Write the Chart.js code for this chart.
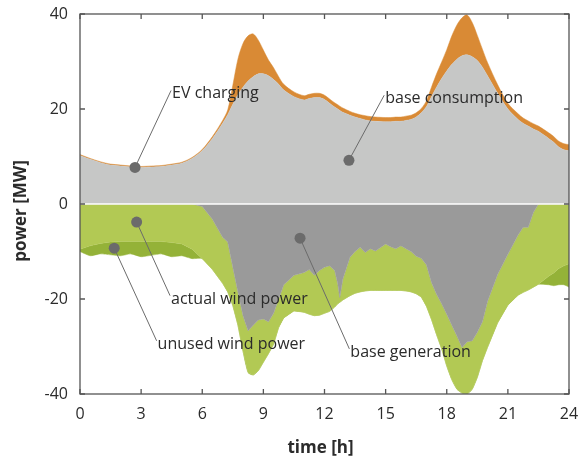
<!DOCTYPE html>
<html>
<head>
<meta charset="utf-8">
<script src="https://cdn.jsdelivr.net/npm/chart.js@4.4.0/dist/chart.umd.min.js"></script>
<style>
  html, body { margin: 0; padding: 0; background: #fff; }
  #wrap { width: 579px; height: 460px; position: relative; }
</style>
</head>
<body>
<div id="wrap"><canvas id="powerChart"></canvas></div>
<script>
// time of day [h]
const hours = [0, 0.5, 1, 1.5, 2, 2.5, 3, 3.5, 4, 4.5, 5, 5.5, 6, 6.5, 7, 7.25, 7.5, 7.75, 8, 8.25,
  8.5, 8.75, 9, 9.25, 9.5, 9.75, 10, 10.5, 11, 11.25, 11.5, 11.75, 12, 12.25, 12.5, 12.65, 12.75, 12.9,
  13.25, 13.5, 13.75, 14, 14.25, 14.5, 15, 15.25, 15.5, 15.75, 16, 16.25, 16.5, 16.75, 17, 17.25,
  17.5, 17.75, 18, 18.25, 18.5, 18.75, 19, 19.25, 19.5, 19.75, 20, 20.5, 21, 21.5, 21.75, 22,
  22.25, 22.5, 23, 23.25, 23.5, 23.75, 24];

// consumption side [MW]
const baseConsumption = [10.2, 9.4, 8.7, 8.2, 8.0, 7.8, 7.7, 7.8, 7.9, 8.2, 8.6, 9.6, 11.2, 13.8, 17.0, 18.8, 21.0, 23.0, 24.6, 25.9,
  26.8, 27.4, 27.4, 27.0, 26.2, 25.2, 24.0, 22.6, 21.9, 22.2, 22.4, 22.4, 22.0, 21.2, 20.4, 20.0, 19.7, 19.3,
  18.7, 18.3, 18.0, 17.7, 17.5, 17.4, 17.3, 17.3, 17.4, 17.4, 17.6, 17.8, 18.3, 19.2, 20.5, 22.6,
  24.6, 26.4, 28.0, 29.4, 30.5, 31.2, 31.4, 31.0, 30.2, 28.8, 27.0, 23.3, 20.0, 17.8, 17.0, 16.4,
  15.8, 15.3, 13.8, 13.0, 12.0, 11.4, 11.2];
const evCharging = [0.2, 0.2, 0.2, 0.2, 0.2, 0.2, 0.2, 0.2, 0.2, 0.2, 0.2, 0.2, 0.3, 0.4, 0.6, 1.0, 4.0, 7.5, 9.2, 9.5,
  9.0, 7.1, 5.0, 3.3, 2.5, 1.6, 1.2, 1.0, 0.9, 0.9, 0.9, 0.9, 0.9, 0.9, 0.9, 0.9, 0.9, 0.9,
  0.8, 0.8, 0.8, 0.9, 0.9, 0.9, 0.9, 0.9, 0.9, 0.9, 0.9, 0.9, 0.9, 0.9, 1.2, 2.0,
  2.8, 3.5, 4.5, 6.0, 7.2, 8.0, 8.4, 7.2, 5.3, 3.8, 2.8, 1.8, 1.2, 1.2, 1.1, 1.1,
  1.1, 1.1, 1.2, 1.2, 1.2, 1.3, 1.3];

// generation side [MW]
const baseGeneration = [0, 0, 0, 0, 0, 0, 0, 0, 0, 0, 0, 0, -0.5, -3.2, -7.0, -8.0, -13.3, -18.5, -23.5, -26.7,
  -25.5, -24.4, -24.2, -24.8, -23.0, -20.0, -17.0, -15.0, -14.4, -13.8, -15.0, -14.0, -13.3, -13.0, -14.0, -16.8, -19.7, -15.8,
  -11.2, -10.0, -9.1, -10.2, -9.4, -9.9, -8.4, -9.0, -9.4, -8.8, -9.4, -10.0, -11.0, -11.4, -12.8, -16.5,
  -19.0, -21.0, -23.2, -25.5, -27.8, -30.2, -29.0, -28.8, -27.0, -24.8, -20.5, -14.8, -10.6, -6.5, -4.9, -4.9,
  -1.8, 0, 0, 0, 0, 0, 0];
const actualWind = [-9.5, -8.8, -8.3, -8.0, -7.9, -7.9, -7.9, -7.9, -7.9, -8.1, -8.4, -9.5, -11.0, -10.6, -9.7, -10.5, -8.1, -7.0, -7.5, -8.8,
  -10.5, -10.7, -9.1, -6.7, -6.5, -6.0, -7.0, -7.5, -8.4, -9.4, -8.5, -9.4, -9.7, -9.6, -7.7, -4.2, -1.0, -4.4,
  -8.1, -8.8, -9.4, -8.1, -8.8, -8.3, -9.8, -9.2, -8.8, -9.4, -8.9, -8.5, -7.9, -8.2, -8.7, -7.8,
  -8.5, -9.5, -10.9, -11.5, -11.2, -9.6, -11.0, -10.2, -9.5, -8.2, -9.7, -10.2, -10.7, -12.7, -13.7, -13.2,
  -15.7, -16.9, -15.2, -14.5, -13.6, -13.0, -12.6];
const unusedWind = [-0.5, -2.1, -2.2, -2.7, -3.0, -2.6, -3.2, -2.9, -2.6, -3.0, -2.5, -2.0, 0, 0, 0, 0, 0, 0, 0, 0,
  0, 0, 0, 0, 0, 0, 0, 0, 0, 0, 0, 0, 0, 0, 0, 0, 0, 0,
  0, 0, 0, 0, 0, 0, 0, 0, 0, 0, 0, 0, 0, 0, 0, 0,
  0, 0, 0, 0, 0, 0, 0, 0, 0, 0, 0, 0, 0, 0, 0, 0,
  0, 0, -1.8, -2.7, -3.4, -4.0, -4.9];

const xTicks = [0, 3, 6, 9, 12, 15, 18, 21, 24];
const yTicks = [-40, -20, 0, 20, 40];

// callout labels: dot position and text anchor, in data units
const callouts = [
  { text: "EV charging",       dot: [2.7, 7.7],   anchor: [4.47, 23.9] },
  { text: "base consumption",  dot: [13.2, 9.2],  anchor: [14.93, 22.9] },
  { text: "actual wind power", dot: [2.78, -3.8], anchor: [4.42, -19.3] },
  { text: "unused wind power", dot: [1.68, -9.3], anchor: [3.76, -28.8] },
  { text: "base generation",   dot: [10.8, -7.2], anchor: [13.22, -30.5] }
];

const FONT = "'Open Sans', 'Noto Sans', sans-serif";
const TEXT = "#2b2b2b";
const pts = arr => arr.map((v, i) => ({ x: hours[i], y: v }));

function area(label, values, color, stack, fill, tension) {
  return {
    label, data: pts(values), stack, fill,
    backgroundColor: color, borderColor: color, borderWidth: 0.5,
    pointRadius: 0, tension
  };
}

// frame with inward ticks, zero seam, callouts and axis titles
const framePlugin = {
  id: "frame",
  afterDatasetsDraw(chart) {
    const { ctx, chartArea: a, scales: { x, y } } = chart;
    ctx.save();
    ctx.strokeStyle = "#ffffff";
    ctx.lineWidth = 1.6;
    ctx.beginPath();
    ctx.moveTo(a.left, y.getPixelForValue(0));
    ctx.lineTo(a.right, y.getPixelForValue(0));
    ctx.stroke();

    callouts.forEach(c => {
      const dx = x.getPixelForValue(c.dot[0]), dy = y.getPixelForValue(c.dot[1]);
      const ax = x.getPixelForValue(c.anchor[0]), ay = y.getPixelForValue(c.anchor[1]);
      ctx.strokeStyle = "#6b6b6b";
      ctx.lineWidth = 1;
      ctx.beginPath();
      ctx.moveTo(dx, dy);
      ctx.lineTo(ax, ay);
      ctx.stroke();
      ctx.fillStyle = "#6b6b6b";
      ctx.beginPath();
      ctx.arc(dx, dy, 5.5, 0, Math.PI * 2);
      ctx.fill();
      ctx.fillStyle = TEXT;
      ctx.font = "16px " + FONT;
      ctx.textAlign = "left";
      ctx.textBaseline = "alphabetic";
      ctx.fillText(c.text, ax + 1, ay + 8);
    });

    ctx.strokeStyle = "#555555";
    ctx.lineWidth = 1.3;
    ctx.strokeRect(a.left, a.top, a.right - a.left, a.bottom - a.top);
    ctx.beginPath();
    xTicks.forEach(t => {
      const px = x.getPixelForValue(t);
      ctx.moveTo(px, a.bottom); ctx.lineTo(px, a.bottom - 5);
      ctx.moveTo(px, a.top); ctx.lineTo(px, a.top + 5);
    });
    yTicks.forEach(t => {
      const py = y.getPixelForValue(t);
      ctx.moveTo(a.left, py); ctx.lineTo(a.left + 5, py);
      ctx.moveTo(a.right, py); ctx.lineTo(a.right - 5, py);
    });
    ctx.stroke();

    // axis titles
    ctx.fillStyle = TEXT;
    ctx.font = "bold 17px " + FONT;
    ctx.textAlign = "center";
    ctx.textBaseline = "middle";
    ctx.fillText("time [h]", (a.left + a.right) / 2 - 4, a.bottom + 54);
    ctx.translate(21, (a.top + a.bottom) / 2 + 7);
    ctx.rotate(-Math.PI / 2);
    ctx.fillText("power [MW]", 0, 0);
    ctx.restore();
  }
};

new Chart(document.getElementById("powerChart"), {
  type: "line",
  data: {
    datasets: [
      area("base consumption", baseConsumption, "#c6c7c6", "demand", "origin", 0.3),
      area("EV charging", evCharging, "#d98a35", "demand", "-1", 0.3),
      area("base generation", baseGeneration, "#9a9a9a", "supply", "origin", 0),
      area("actual wind power", actualWind, "#b2c954", "supply", "-1", 0),
      area("unused wind power", unusedWind, "#94b238", "supply", "-1", 0.2)
    ]
  },
  options: {
    responsive: true,
    maintainAspectRatio: false,
    animation: false,
    layout: { padding: { top: 14, right: 10, left: 0, bottom: 0 } },
    plugins: { legend: { display: false }, tooltip: { enabled: false } },
    scales: {
      x: {
        type: "linear", min: 0, max: 24,
        grid: { display: false, drawTicks: false },
        border: { display: false },
        afterBuildTicks: s => { s.ticks = xTicks.map(v => ({ value: v })); },
        afterFit: s => { s.height = 66; s.paddingLeft = 0; s.paddingRight = 0; },
        ticks: { padding: 11, color: TEXT, font: { family: FONT, size: 16 }, maxRotation: 0 }
      },
      y: {
        stacked: true, min: -40, max: 40,
        grid: { display: false, drawTicks: false },
        border: { display: false },
        afterBuildTicks: s => { s.ticks = yTicks.map(v => ({ value: v })); },
        afterFit: s => { s.width = 80; s.paddingTop = 0; s.paddingBottom = 0; },
        ticks: { padding: 12, color: TEXT, font: { family: FONT, size: 16 } }
      }
    }
  },
  plugins: [framePlugin]
});
</script>
</body>
</html>
